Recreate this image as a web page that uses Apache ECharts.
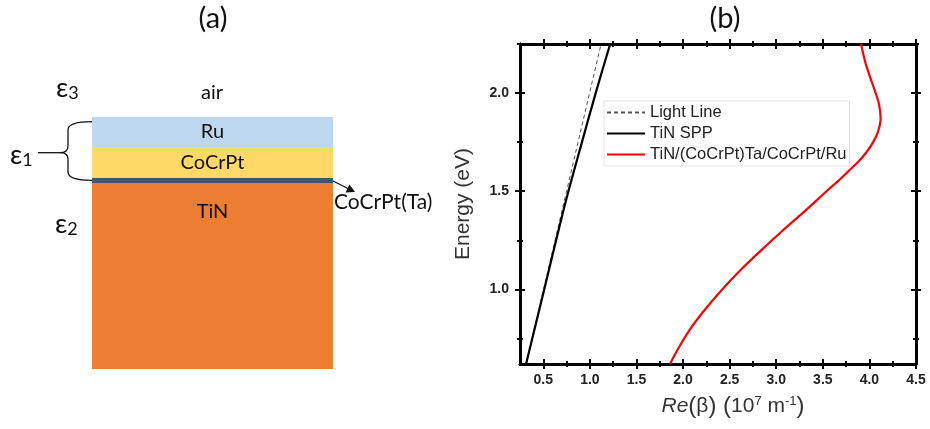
<!DOCTYPE html>
<html>
<head>
<meta charset="utf-8">
<script src="https://cdn.jsdelivr.net/npm/echarts@6/dist/echarts.min.js"></script>
<style>
  html, body { margin: 0; padding: 0; background: #fff; }
  #container { width: 930px; height: 429px; }
</style>
</head>
<body>
<div id="container"></div>
<script>
let chart = echarts.init(document.getElementById('container'));

// panel (b) axes
var xMin = 0.25, xMax = 4.5;
var yMin = 0.62, yMax = 2.25;
var xMajorTicks = [0.5, 1.0, 1.5, 2.0, 2.5, 3.0, 3.5, 4.0, 4.5];
var xMinorTicks = [0.75, 1.25, 1.75, 2.25, 2.75, 3.25, 3.75, 4.25];
var yMajorTicks = [1.0, 1.5, 2.0];
var yMinorTicks = [0.75, 1.25, 1.75, 2.25];

// dispersion curves (Re(beta) in 1e7 1/m, energy in eV)
var lightE = [0.62, 2.25];
var lightX = [0.315, 1.12];
var sppE = [0.62, 1.0, 1.45, 1.75, 2.0, 2.25];
var sppX = [0.315, 0.51, 0.742, 0.915, 1.062, 1.218];
var stackE = [0.62, 0.70, 0.80, 0.90, 1.00, 1.10, 1.20, 1.30, 1.40, 1.50, 1.55, 1.60, 1.65, 1.70, 1.75, 1.80, 1.87, 1.95, 2.05, 2.15, 2.25];
var stackX = [1.86, 1.95, 2.08, 2.24, 2.42, 2.62, 2.84, 3.07, 3.31, 3.54, 3.66, 3.77, 3.88, 3.97, 4.04, 4.09, 4.12, 4.10, 4.03, 3.96, 3.91];

// panel (a) layer stack, bottom to top (drawing units)
var layerNames = ['TiN', 'CoCrPt(Ta)', 'CoCrPt', 'Ru'];
var layerThickness = [186, 5, 31, 30];
var layerColors = ['#ED7D31', '#44546A', '#FFD966', '#BDD7EE'];
var layerLabels = [true, false, true, true];

function pairs(xs, ys) {
    return xs.map((x, i) => [x, ys[i]]);
}

var axisLine = { onZero: false, lineStyle: { color: '#000', width: 2.5 } };
var labelStyle = { color: '#222', fontFamily: 'Arial', fontWeight: 'bold', fontSize: 14 };

// four copies per side: major out/in, minor out/in, so ticks cross the frame
function sideAxes(pos, min, max, major, minor, extra) {
    let list = [];
    [[major, 5], [minor, 3]].forEach(([vals, len], k) => {
        [false, true].forEach((inside, j) => {
            let ax = {
                type: 'value', gridIndex: 0, position: pos, min: min, max: max,
                axisLine: axisLine,
                splitLine: { show: false },
                axisTick: { show: true, inside: inside, length: len, customValues: vals,
                    lineStyle: { color: '#000', width: 2 } },
                axisLabel: { show: false },
            };
            if (k == 0 && j == 0 && extra) {
                Object.assign(ax, extra);
            }
            list.push(ax);
        });
    });
    return list;
}

let xAxes = [].concat(
    sideAxes('bottom', xMin, xMax, xMajorTicks, xMinorTicks, {
        axisLabel: Object.assign({ show: true, margin: 9, customValues: xMajorTicks,
            formatter: v => v.toFixed(1) }, labelStyle),
        name: '{i|Re}{p|(}{t|β}{p|) (}{t|10}{s|7}{t| m}{s|-1}{p|)}',
        nameLocation: 'middle',
        nameGap: 30,
        nameTextStyle: {
            padding: [0, 0, 0, 30],
            rich: {
                i: { fontFamily: 'Arial', fontSize: 21, fontStyle: 'italic', color: '#333' },
                t: { fontFamily: 'Arial', fontSize: 21, color: '#333' },
                p: { fontFamily: 'Arial', fontSize: 24, color: '#333' },
                s: { fontFamily: 'Arial', fontSize: 13, color: '#333', padding: [0, 0, 10, 0] },
            },
        },
    }),
    sideAxes('top', xMin, xMax, xMajorTicks, xMinorTicks, null)
);
let yAxes = [].concat(
    sideAxes('left', yMin, yMax, yMajorTicks, yMinorTicks, {
        axisLabel: Object.assign({ show: true, margin: 11, customValues: yMajorTicks,
            formatter: v => v.toFixed(1) }, labelStyle),
        name: 'Energy (eV)',
        nameLocation: 'middle',
        nameGap: 46,
        nameTextStyle: { fontFamily: 'Arial', fontSize: 21, color: '#333' },
    }),
    sideAxes('right', yMin, yMax, yMajorTicks, yMinorTicks, null)
);
let schemeX = xAxes.length;
let schemeY = yAxes.length;
xAxes.push({ type: 'category', gridIndex: 1, show: false, data: ['film'] });
yAxes.push({ type: 'value', gridIndex: 1, show: false, min: 0,
    max: layerThickness.reduce((a, b) => a + b, 0) });

let layerSeries = layerNames.map((name, i) => ({
    name: name,
    type: 'bar',
    stack: 'film',
    xAxisIndex: schemeX,
    yAxisIndex: schemeY,
    barWidth: '100%',
    itemStyle: { color: layerColors[i] },
    label: {
        show: layerLabels[i],
        position: i == 0 ? 'insideTop' : 'inside',
        distance: 19,
        formatter: name,
        fontFamily: 'Lato',
        fontSize: 20,
        color: '#111',
    },
    data: [layerThickness[i]],
}));

let eps = (x, y, sub) => ({
    type: 'text', x: x, y: y,
    style: {
        text: '{e|ε}{s|' + sub + '}',
        rich: {
            e: { fontFamily: 'Lato', fontSize: 27, fill: '#111' },
            s: { fontFamily: 'Lato', fontSize: 18, fill: '#111', padding: [10, 0, 0, 0] },
        },
        verticalAlign: 'middle',
    },
});

let ink = { stroke: '#111', lineWidth: 1.3, fill: null };
let brace = [
    { type: 'bezierCurve', shape: { x1: 92, y1: 121.7, cpx1: 68, cpy1: 121.7, x2: 68, y2: 130 }, style: ink },
    { type: 'line', shape: { x1: 68, y1: 130, x2: 68, y2: 146 }, style: ink },
    { type: 'bezierCurve', shape: { x1: 68, y1: 146, cpx1: 68, cpy1: 152.7, x2: 60, y2: 152.7 }, style: ink },
    { type: 'bezierCurve', shape: { x1: 60, y1: 152.7, cpx1: 68, cpy1: 152.7, x2: 68, y2: 159 }, style: ink },
    { type: 'line', shape: { x1: 68, y1: 159, x2: 68, y2: 172 }, style: ink },
    { type: 'bezierCurve', shape: { x1: 68, y1: 172, cpx1: 68, cpy1: 180.3, x2: 92, y2: 180.3 }, style: ink },
    { type: 'line', shape: { x1: 38, y1: 152.7, x2: 60, y2: 152.7 }, style: ink },
];

let option = {
    animation: false,
    backgroundColor: '#fff',
    grid: [
        { left: 520, right: 14, top: 44, bottom: 65, containLabel: false },
        { left: 92, width: 241, top: 117, height: 252, containLabel: false },
    ],
    legend: {
        data: ['Light Line', 'TiN SPP', 'TiN/(CoCrPt)Ta/CoCrPt/Ru'],
        orient: 'vertical',
        left: 604,
        top: 101,
        itemWidth: 38,
        itemHeight: 12,
        itemGap: 4,
        padding: [3, 3, 3, 2],
        borderColor: '#e3e3e3',
        borderWidth: 1,
        itemStyle: { opacity: 0 },
        textStyle: { fontFamily: 'Arial', fontSize: 16.5, color: '#222' },
    },
    xAxis: xAxes,
    yAxis: yAxes,
    series: [
        {
            name: 'Light Line', type: 'line', symbol: 'none',
            lineStyle: { color: '#555', width: 1, type: [4, 3] },
            itemStyle: { color: '#555' },
            data: pairs(lightX, lightE),
        },
        {
            name: 'TiN SPP', type: 'line', symbol: 'none', smooth: 0.3,
            lineStyle: { color: '#000', width: 2.2 },
            itemStyle: { color: '#000' },
            data: pairs(sppX, sppE),
        },
        {
            name: 'TiN/(CoCrPt)Ta/CoCrPt/Ru', type: 'line', symbol: 'none', smooth: 0.3,
            lineStyle: { color: '#f00', width: 2.2 },
            itemStyle: { color: '#f00' },
            data: pairs(stackX, stackE),
        },
    ].concat(layerSeries),
    graphic: [
        { type: 'text', x: 213, y: 19, style: { text: '(a)', font: '29px Lato', fill: '#111', align: 'center', verticalAlign: 'middle' } },
        { type: 'text', x: 725, y: 19, style: { text: '(b)', font: '29px Lato', fill: '#111', align: 'center', verticalAlign: 'middle' } },
        { type: 'text', x: 212, y: 93, style: { text: 'air', font: '20px Lato', fill: '#111', align: 'center', verticalAlign: 'middle' } },
        { type: 'text', x: 334, y: 202, style: { text: 'CoCrPt(Ta)', font: '21px Lato', fill: '#111', align: 'left', verticalAlign: 'middle' } },
        eps(56, 88, '3'),
        eps(10, 155, '1'),
        eps(55, 224, '2'),
        { type: 'line', shape: { x1: 333, y1: 181, x2: 348, y2: 188.5 }, style: { stroke: '#111', lineWidth: 1.2 } },
        { type: 'polygon', shape: { points: [[355, 192], [345.5, 192.5], [349.5, 184.5]] }, style: { fill: '#111' } },
    ].concat(brace),
};

chart.setOption(option);
</script>
</body>
</html>
